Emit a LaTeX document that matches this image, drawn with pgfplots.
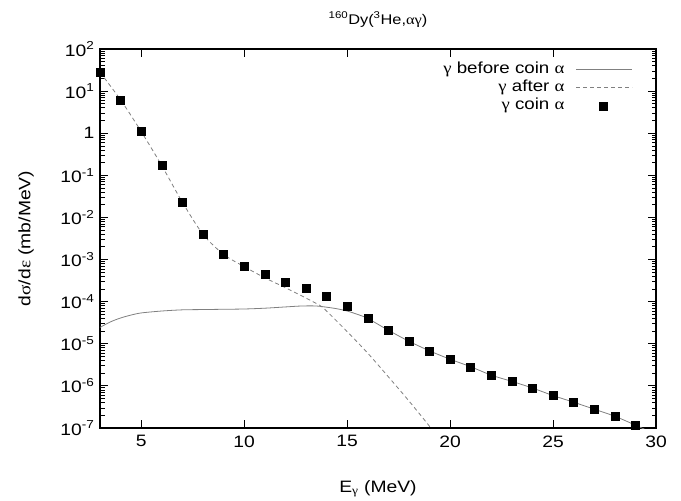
\documentclass[border=0pt]{standalone}
\usepackage{fontspec}
\setmainfont{Liberation Sans}[FakeStretch=1.17]
\newfontfamily\grk{Liberation Serif}[FakeStretch=1.17]
\usepackage{pgfplots}
\pgfplotsset{compat=1.18}
\newcommand{\G}[1]{{\grk #1}}
\pgfplotsset{
  mylinelegend/.style={legend image code/.code={\path[draw=none] (0pt,0pt) rectangle (68pt,0.1pt); \draw[##1] (12pt,0pt) -- (68pt,0pt);}},
  mymarklegend/.style={legend image code/.code={\path[draw=none] (0pt,0pt) rectangle (68pt,0.1pt); \draw[##1] plot coordinates {(39pt,0pt)};}},
}
\begin{document}
\begin{tikzpicture}
\begin{axis}[name=ax,
  scale only axis, width=556pt, height=379pt,
  xmin=3, xmax=30, ymode=log, ymin=1e-7, ymax=1e2,
  xtick={5,10,15,20,25,30},
  ytick={1e-7,1e-6,1e-5,1e-4,1e-3,1e-2,1e-1,1,1e1,1e2},
  yticklabels={10\textsuperscript{-7},10\textsuperscript{-6},10\textsuperscript{-5},10\textsuperscript{-4},10\textsuperscript{-3},10\textsuperscript{-2},10\textsuperscript{-1},1,10\textsuperscript{1},10\textsuperscript{2}},
  /pgf/number format/assume math mode=true,
  tick align=inside, major tick length=8pt, minor tick length=4.5pt,
  tick style={black, line width=0.8pt},
  axis line style={line width=1.2pt},
  tick label style={font=\fontsize{16.5}{19}\selectfont},
  xticklabel style={yshift=-4pt},
  yticklabel style={xshift=-2pt},
  label style={font=\fontsize{16.5}{19}\selectfont},
  xlabel={E\textsubscript{\G{γ}} (MeV)},
  ylabel={d\G{σ}/d\G{ε} (mb/MeV)},
  xlabel style={at={(axis description cs:0.5,-0.169)}, anchor=base},
  ylabel style={at={(axis description cs:-0.133,0.5)}, anchor=center},
  title={\textsuperscript{160}Dy(\textsuperscript{3}He,\G{αγ})},
  title style={at={(axis description cs:0.5,1.05)}, anchor=base, font=\fontsize{14}{17}\selectfont},
  legend plot pos=right,
  legend cell align=right,
  legend style={draw=none, fill=none, inner sep=0pt, row sep=0pt,
    at={(rel axis cs:1,1)}, anchor=north east, xshift=-23pt, yshift=-11pt,
    font=\fontsize{16}{19}\selectfont,
    nodes={inner sep=0pt, text height=13pt, text depth=5.2pt}},
]
\addplot[color=black!50, line width=0.8pt, smooth, tension=0.5, mylinelegend]
  coordinates {(3,2.45e-5)(3.5,3.3e-5)(4,4.1e-5)(4.5,4.8e-5)(5,5.4e-5)(6,6.0e-5)(7,6.4e-5)(8,6.5e-5)(9,6.6e-5)(10,6.7e-5)(11,7.0e-5)(12,7.5e-5)(12.8,7.9e-5)(13.5,7.9e-5)(14,7.4e-5)(14.5,6.8e-5)(15,6.0e-5)(15.5,5.0e-5)(16,4.0e-5)(17,2.1e-5)(18,1.15e-5)(19,6.8e-6)(20,4.3e-6)(21,2.85e-6)(22,1.8e-6)(23,1.28e-6)(24,8.9e-7)(25,5.9e-7)(26,4.1e-7)(27,2.8e-7)(28,1.9e-7)(29,1.17e-7)(30,7e-8)};
\addlegendentry{\G{γ} before coin \G{α}}
\addplot[color=black!50, line width=0.8pt, dash pattern=on 4pt off 3pt, smooth, tension=0.5, mylinelegend]
  coordinates {(3,28)(4,6.2)(5,1.1)(6,0.17)(7,0.023)(8,0.004)(9,0.00133)(10,6.8e-4)(11,3.7e-4)(12,2.15e-4)(13,1.22e-4)(13.7,8e-5)(14,6.0e-5)(15,1.95e-5)(16,6.0e-6)(17,1.65e-6)(18,4.4e-7)(19,1.1e-7)(19.5,5e-8)};
\addlegendentry{\G{γ} after \G{α}}
\addplot[only marks, mark=square*, mark size=4pt, black, mymarklegend]
  coordinates {(3,28)(4,6.2)(5,1.1)(6,0.17)(7,0.023)(8,0.0040)(9,0.00135)(10,6.9e-4)(11,4.4e-4)(12,2.95e-4)(13,2.1e-4)(14,1.38e-4)(15,7.8e-5)(16,4.0e-5)(17,2.1e-5)(18,1.17e-5)(19,6.8e-6)(20,4.3e-6)(21,2.85e-6)(22,1.8e-6)(23,1.28e-6)(24,8.9e-7)(25,5.9e-7)(26,4.1e-7)(27,2.8e-7)(28,1.9e-7)(29,1.17e-7)};
\addlegendentry{\G{γ} coin \G{α}}
\end{axis}
\path ([shift={(-100pt,-68pt)}]ax.south west) rectangle ([shift={(25pt,49pt)}]ax.north east);
\end{tikzpicture}
\end{document}
